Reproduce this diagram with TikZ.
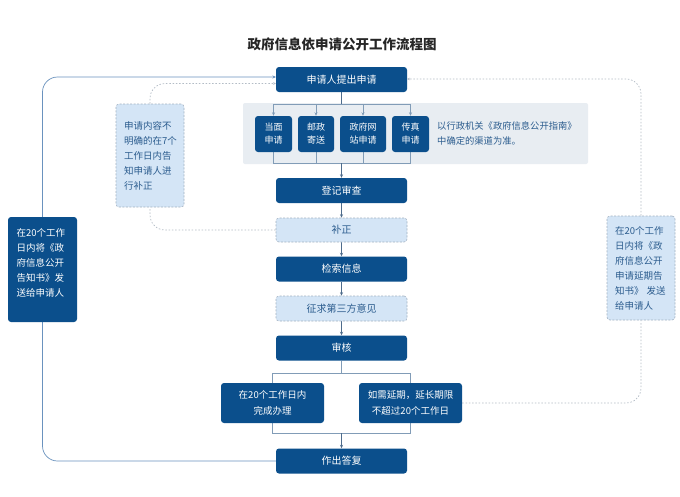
\documentclass[tikz,border=0pt]{standalone}
\usepackage{fontspec}
\setmainfont{Noto Sans CJK SC}
\usetikzlibrary{arrows.meta,backgrounds}
\definecolor{dblue}{HTML}{0B4F8C}
\definecolor{lblue}{HTML}{D4E5F6}
\definecolor{tblue}{HTML}{2B5C8E}
\definecolor{dgray}{HTML}{A3B2C2}
\definecolor{panelc}{HTML}{E8EDF2}
\definecolor{linec}{HTML}{4E6C8C}
\definecolor{branchc}{HTML}{819CB7}
\definecolor{loopc}{HTML}{6A92BE}
\definecolor{dotc}{HTML}{B3BCC6}
\begin{document}
\begin{tikzpicture}[x=1pt,y=-1pt,
  mainbox/.style={fill=dblue, rounded corners=3pt, text=white, minimum width=131pt, minimum height=25pt, inner sep=0pt, font=\fontsize{10}{12}\selectfont},
  optbox/.style={fill=lblue, draw=dgray, dash pattern=on 2pt off 1.5pt, line width=0.6pt, rounded corners=3pt, text=tblue, minimum width=131pt, minimum height=24pt, inner sep=0pt, font=\fontsize{10}{12}\selectfont},
  subbox/.style={fill=dblue, rounded corners=3pt, text=white, minimum height=36pt, inner sep=0pt, align=center, font=\fontsize{9}{13}\selectfont},
  resbox/.style={fill=dblue, rounded corners=3pt, text=white, minimum width=103pt, minimum height=40pt, inner sep=0pt, align=center, font=\fontsize{9.5}{16}\selectfont},
  notebox/.style={fill=lblue, draw=dgray, dash pattern=on 2pt off 1.5pt, line width=0.6pt, rounded corners=3pt, text=tblue, minimum width=68pt, inner sep=0pt, text width=52pt, align=left, font=\fontsize{9.5}{15}\selectfont},
  darknote/.style={fill=dblue, rounded corners=3pt, text=white, minimum width=69pt, minimum height=105pt, inner sep=0pt, text width=52pt, align=left, font=\fontsize{9.5}{15}\selectfont},
  flow/.style={draw=linec, line width=0.6pt},
  arr/.style={flow, -{Stealth[length=3.5pt,width=3pt]}},
  branch/.style={draw=branchc, line width=0.6pt},
  barr/.style={branch, -{Stealth[length=3.5pt,width=3pt]}},
  loopline/.style={draw=loopc, line width=0.7pt, rounded corners=15pt},
  dotline/.style={draw=dotc, line width=0.7pt, dash pattern=on 1.5pt off 1.8pt, rounded corners=15pt}
]
\useasboundingbox (0,0) rectangle (680,496);

\node[font=\fontsize{13.5}{16}\selectfont\bfseries, text=black!85] (title) at (342,44) {政府信息依申请公开工作流程图};

% main column
\node[mainbox] (req) at (341.5,79.5) {申请人提出申请};
\node[subbox, minimum width=37pt] (s1) at (273.5,134) {当面\\申请};
\node[subbox, minimum width=36pt] (s2) at (316,134) {邮政\\寄送};
\node[subbox, minimum width=46pt] (s3) at (363,134) {政府网\\站申请};
\node[subbox, minimum width=37pt] (s4) at (410.5,134) {传真\\申请};
\node[anchor=west, align=left, text=tblue, inner sep=0pt, font=\fontsize{9.3}{15}\selectfont] (guide) at (437,133.5) {以行政机关《政府信息公开指南》\\中确定的渠道为准。};
\node[mainbox] (reg) at (341.5,190.5) {登记审查};
\node[optbox] (bz) at (341.5,230) {补正};
\node[mainbox] (search) at (341.5,269) {检索信息};
\node[optbox, minimum height=25pt] (third) at (341.5,308.5) {征求第三方意见};
\node[mainbox] (audit) at (341.5,348) {审核};
\node[resbox] (done) at (272.5,403) {在20个工作日内\\完成办理};
\node[resbox] (ext) at (410.5,403) {如需延期，延长期限\\不超过20个工作日};
\node[mainbox] (reply) at (341.5,461) {作出答复};

% side notes
\node[notebox, minimum height=103pt] (lnote) at (150,155.5) {申请内容不\\明确的在7个\\工作日内告\\知申请人进\\行补正};
\node[darknote] (lbox) at (42.5,269.5) {在20个工作\\日内将《政\\府信息公开\\告知书》发\\送给申请人\\[-1pt]\mbox{}};
\node[notebox, minimum height=104pt] (rnote) at (641,268) {在20个工作\\日内将《政\\府信息公开\\申请延期告\\知书》 发送\\给申请人};

% coordinates
\coordinate (btop) at (341.5,104);
\coordinate (bbot) at (341.5,163);
\coordinate (atop) at (341.5,373);
\coordinate (abot) at (341.5,433);
\coordinate (reqL1) at (276,77);
\coordinate (reqL2) at (276,83.5);
\coordinate (reqR) at (407,79);

\begin{pgfonlayer}{background}
\fill[white] (0,0) rectangle (680,496);
\fill[panelc, rounded corners=2pt] (243,103) rectangle (588,164);
% branches in panel
\draw[flow] (req) -- (btop);
\draw[branch] (s1 |- btop) -- (s4 |- btop);
\foreach \s in {s1,s2,s3,s4} \draw[barr] (\s |- btop) -- (\s.north);
\draw[branch] (s1.south) -- (s1 |- bbot) -- (s4 |- bbot) -- (s4.south);
\draw[branch] (s2.south) -- (s2 |- bbot);
\draw[branch] (s3.south) -- (s3 |- bbot);
\draw[arr] (bbot) -- (reg.north);
% main flow
\draw[arr] (reg) -- (bz);
\draw[arr] (bz) -- (search);
\draw[arr] (search) -- (third);
\draw[arr] (third) -- (audit);
\draw[branch] (audit) -- (atop);
\draw[branch] (done |- atop) -- (ext |- atop);
\draw[branch] (done |- atop) -- (done.north);
\draw[branch] (ext |- atop) -- (ext.north);
\draw[branch] (done.south) -- (done |- abot) -- (ext |- abot) -- (ext.south);
\draw[arr] (abot) -- (reply.north);
% left solid loop
\draw[loopline, -{Stealth[length=3.5pt,width=3pt]}] (reply.west) -- (lbox |- reply.west) -- (lbox |- reqL1) -- (reqL1);
% left dotted loop
\draw[dotline] (bz.west) -- (lnote |- bz.west) -- (lnote.south);
\draw[dotline, -{Stealth[length=3pt,width=2.6pt]}] (lnote.north) -- (lnote |- reqL2) -- (reqL2);
% right dotted loop
\draw[dotline] (ext.east) -- (rnote |- ext.east) -- (rnote.south);
\draw[dotline, -{Stealth[length=3pt,width=2.6pt]}] (rnote.north) -- (rnote |- reqR) -- (reqR);
\end{pgfonlayer}
\end{tikzpicture}
\end{document}
